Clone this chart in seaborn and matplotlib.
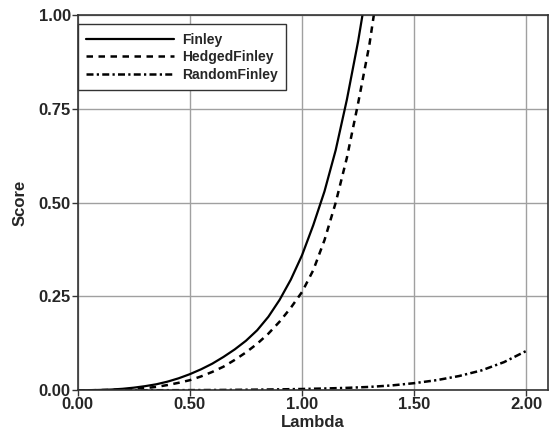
import matplotlib
matplotlib.use("Agg")
import matplotlib.pyplot as plt
import seaborn as sns
import pandas as pd

# --- data ---
lam_finley = [0.00, 0.05, 0.10, 0.15, 0.20, 0.25, 0.30, 0.35, 0.40, 0.45, 0.50,
              0.55, 0.60, 0.65, 0.70, 0.75, 0.80, 0.85, 0.90, 0.95, 1.00,
              1.05, 1.10, 1.15, 1.20, 1.25, 1.30]
score_finley = [0.000, 0.0003, 0.001, 0.002, 0.004, 0.007, 0.011, 0.016, 0.023, 0.032, 0.043,
                0.056, 0.071, 0.089, 0.109, 0.132, 0.160, 0.196, 0.241, 0.295, 0.360,
                0.440, 0.530, 0.640, 0.775, 0.930, 1.110]

lam_hedged = [0.00, 0.05, 0.10, 0.15, 0.20, 0.25, 0.30, 0.35, 0.40, 0.45, 0.50,
              0.55, 0.60, 0.65, 0.70, 0.75, 0.80, 0.85, 0.90, 0.95, 1.00,
              1.05, 1.10, 1.15, 1.20, 1.25, 1.30, 1.35]
score_hedged = [0.000, 0.0001, 0.0005, 0.001, 0.002, 0.004, 0.006, 0.009, 0.014, 0.020, 0.027,
                0.037, 0.049, 0.063, 0.081, 0.101, 0.124, 0.151, 0.183, 0.220, 0.262,
                0.320, 0.400, 0.500, 0.620, 0.765, 0.920, 1.120]

lam_random = [0.0, 0.1, 0.2, 0.3, 0.4, 0.5, 0.6, 0.7, 0.8, 0.9, 1.0,
              1.1, 1.2, 1.3, 1.4, 1.5, 1.6, 1.7, 1.8, 1.9, 2.0]
score_random = [0.0, 0.0, 0.0001, 0.0002, 0.0003, 0.0005, 0.0008, 0.0012, 0.0018, 0.0025, 0.0035,
                0.0048, 0.0065, 0.009, 0.013, 0.019, 0.027, 0.038, 0.053, 0.075, 0.105]

x_ticks = [0.0, 0.5, 1.0, 1.5, 2.0]
x_tick_labels = ["0.00", "0.50", "1.00", "1.50", "2.00"]
y_ticks = [0.0, 0.25, 0.5, 0.75, 1.0]
y_tick_labels = ["0.00", "0.25", "0.50", "0.75", "1.00"]

sns.set_style("ticks")
plt.rcParams["font.family"] = ["Liberation Sans", "DejaVu Sans"]

fig = plt.figure(figsize=(5.51, 4.36), dpi=100)
ax = fig.add_axes([77.7 / 551, 1 - 390.3 / 436, 470 / 551, 375.3 / 436])

df_f = pd.DataFrame({"Lambda": lam_finley, "Score": score_finley})
df_h = pd.DataFrame({"Lambda": lam_hedged, "Score": score_hedged})
df_r = pd.DataFrame({"Lambda": lam_random, "Score": score_random})

sns.lineplot(data=df_f, x="Lambda", y="Score", ax=ax, color="black", lw=1.6,
             linestyle="-", label="Finley")
sns.lineplot(data=df_h, x="Lambda", y="Score", ax=ax, color="black", lw=1.8,
             linestyle=(0, (2.6, 2.2)), label="HedgedFinley")
sns.lineplot(data=df_r, x="Lambda", y="Score", ax=ax, color="black", lw=1.8,
             linestyle=(0, (2.8, 1.3, 0.9, 1.3)), label="RandomFinley")

ax.set_xlim(0, 2.095)
ax.set_ylim(0, 1.0)
ax.set_xticks(x_ticks)
ax.set_xticklabels(x_tick_labels)
ax.set_yticks(y_ticks)
ax.set_yticklabels(y_tick_labels)
ax.grid(True, color="#a0a0a0", lw=1.0)
ax.set_axisbelow(True)
for s in ax.spines.values():
    s.set_visible(True)
    s.set_color("#333333")
    s.set_linewidth(1.2)
ax.tick_params(axis="both", direction="out", length=4, width=1.0, color="#333333",
               labelsize=12, pad=1)
for t in ax.get_xticklabels() + ax.get_yticklabels():
    t.set_fontweight("bold")
ax.set_xlabel("Lambda", fontsize=12, fontweight="bold", labelpad=2)
ax.set_ylabel("Score", fontsize=12, fontweight="bold", labelpad=8)

leg = ax.legend(loc="upper left", bbox_to_anchor=(0, 1 - 9.3 / 375.3), borderaxespad=0,
                frameon=True, fancybox=False, edgecolor="#333333", framealpha=1,
                prop={"weight": "bold", "size": 10}, handlelength=6.3,
                handletextpad=0.6, borderpad=0.6, labelspacing=0.25)
leg.get_frame().set_linewidth(1.0)

fig.savefig("out.png", dpi=100)
